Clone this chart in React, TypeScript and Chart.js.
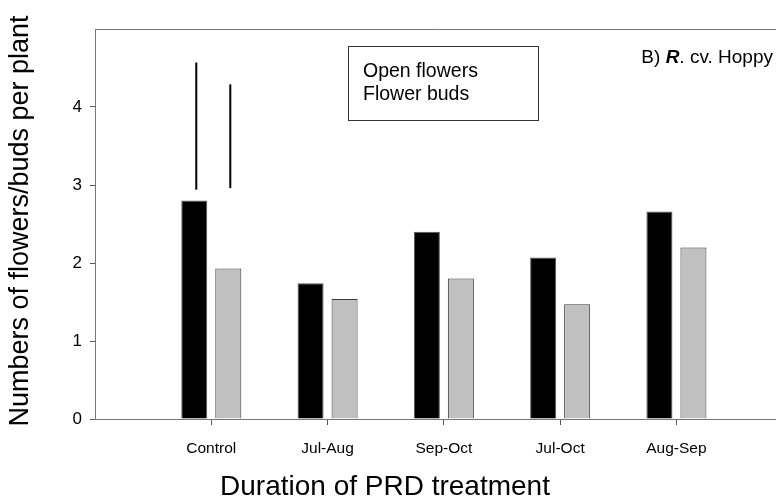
import React, { useEffect, useRef } from 'react';
import { Chart, registerables } from 'chart.js';

Chart.register(...registerables);

const categories = ['Control', 'Jul-Aug', 'Sep-Oct', 'Jul-Oct', 'Aug-Sep'];
const openFlowers = [2.8, 1.74, 2.4, 2.07, 2.66];
const flowerBuds = [1.93, 1.54, 1.8, 1.47, 2.2];
const openErrLow = [2.94, null, null, null, null];
const openErrHigh = [4.57, null, null, null, null];
const budsErrLow = [2.96, null, null, null, null];
const budsErrHigh = [4.29, null, null, null, null];
const yTickValues = [0, 1, 2, 3, 4];
const seriesNames = ['Open flowers', 'Flower buds'];
const xTitle = 'Duration of PRD treatment';
const yTitle = 'Numbers of flowers/buds per plant';
const panelLabel = ['B) ', 'R', '. cv. Hoppy'];

const FONT = '"Liberation Sans", Arial, Helvetica, sans-serif';

const errorPlugin = {
  id: 'errorLines',
  afterDatasetsDraw(chart: any) {
    const ctx = chart.ctx;
    const ys = chart.scales.y;
    const sets = [
      [openErrLow, openErrHigh],
      [budsErrLow, budsErrHigh],
    ];
    sets.forEach(([lo, hi], di) => {
      const meta = chart.getDatasetMeta(di);
      meta.data.forEach((bar: any, i: number) => {
        if (lo[i] == null || hi[i] == null) return;
        ctx.save();
        ctx.strokeStyle = '#000';
        ctx.lineWidth = 2;
        ctx.beginPath();
        ctx.moveTo(bar.x + 2, ys.getPixelForValue(lo[i] as number));
        ctx.lineTo(bar.x + 2, ys.getPixelForValue(hi[i] as number));
        ctx.stroke();
        ctx.restore();
      });
    });
  },
};

const decorPlugin = {
  id: 'decor',
  afterDraw(chart: any) {
    const ctx = chart.ctx;
    const ca = chart.chartArea;
    ctx.save();
    // top frame line
    ctx.strokeStyle = '#777';
    ctx.lineWidth = 1;
    ctx.beginPath();
    ctx.moveTo(ca.left, ca.top + 0.5);
    ctx.lineTo(ca.right, ca.top + 0.5);
    ctx.stroke();

    // legend box
    ctx.strokeStyle = '#333';
    ctx.strokeRect(340.5, 38.5, 190, 74);
    ctx.fillStyle = '#000';
    ctx.font = `19.5px ${FONT}`;
    ctx.textAlign = 'left';
    ctx.textBaseline = 'middle';
    ctx.fillText(seriesNames[0], 355, 64);
    ctx.fillText(seriesNames[1], 355, 87);

    // panel label
    const fonts = [`19px ${FONT}`, `italic bold 19px ${FONT}`, `19px ${FONT}`];
    let total = 0;
    const widths = panelLabel.map((t, i) => {
      ctx.font = fonts[i];
      const w = ctx.measureText(t).width;
      total += w;
      return w;
    });
    let x = 765 - total;
    panelLabel.forEach((t, i) => {
      ctx.font = fonts[i];
      ctx.fillText(t, x, 50);
      x += widths[i];
    });

    // axis titles
    ctx.font = `28px ${FONT}`;
    ctx.textAlign = 'center';
    ctx.fillText(xTitle, 377, 479);
    ctx.font = `27px ${FONT}`;
    ctx.translate(13, 213);
    ctx.rotate(-Math.PI / 2);
    ctx.fillText(yTitle, 0, 0);
    ctx.restore();
  },
};

export default function App() {
  const ref = useRef<HTMLCanvasElement | null>(null);

  useEffect(() => {
    if (!ref.current) return;
    const chart = new Chart(ref.current, {
      type: 'bar',
      data: {
        datasets: [
          {
            label: seriesNames[0],
            data: categories.map((_, i) => ({ x: i + 1, y: openFlowers[i] })),
            backgroundColor: '#000000',
            borderColor: '#555555',
            borderWidth: 1,
          },
          {
            label: seriesNames[1],
            data: categories.map((_, i) => ({ x: i + 1, y: flowerBuds[i] })),
            backgroundColor: '#c0c0c0',
            borderColor: '#3a3a3a',
            borderWidth: 1,
          },
        ],
      },
      options: {
        animation: false,
        responsive: false,
        layout: { padding: { top: 21, left: 0, right: 0, bottom: 0 } },
        datasets: {
          bar: { categoryPercentage: 0.585, barPercentage: 0.765 },
        },
        plugins: {
          legend: { display: false },
          tooltip: { enabled: false },
          title: { display: false },
        },
        scales: {
          x: {
            type: 'linear',
            min: 0,
            max: 5.925,
            offset: false,
            grid: {
              offset: false,
              drawOnChartArea: false,
              drawTicks: true,
              tickLength: 6,
              color: '#555',
            },
            border: { display: true, color: '#777', width: 1 },
            afterBuildTicks: (axis: any) => {
              axis.ticks = categories.map((_, i) => ({ value: i + 1 }));
            },
            afterFit: (scale: any) => {
              scale.height = 84;
            },
            ticks: {
              autoSkip: false,
              maxRotation: 0,
              padding: 14,
              color: '#000',
              font: { family: FONT, size: 15.5 },
              callback: (v: any) => categories[Math.round(Number(v)) - 1] ?? '',
            },
          },
          y: {
            type: 'linear',
            min: 0,
            max: 5,
            grid: {
              drawOnChartArea: false,
              drawTicks: true,
              tickLength: 5,
              color: '#555',
            },
            border: { display: true, color: '#777', width: 1 },
            afterBuildTicks: (axis: any) => {
              axis.ticks = yTickValues.map((v) => ({ value: v }));
            },
            afterFit: (scale: any) => {
              scale.width = 87;
            },
            ticks: {
              padding: 8,
              color: '#000',
              font: { family: FONT, size: 17 },
              callback: (v: any) => String(v),
            },
          },
        },
      },
      plugins: [errorPlugin, decorPlugin],
    } as any);
    return () => chart.destroy();
  }, []);

  return (
    <div style={{ width: 776, height: 487 }}>
      <canvas
        ref={ref}
        width={776}
        height={495}
        style={{ display: 'block', width: 776, height: 495 }}
      />
    </div>
  );
}
